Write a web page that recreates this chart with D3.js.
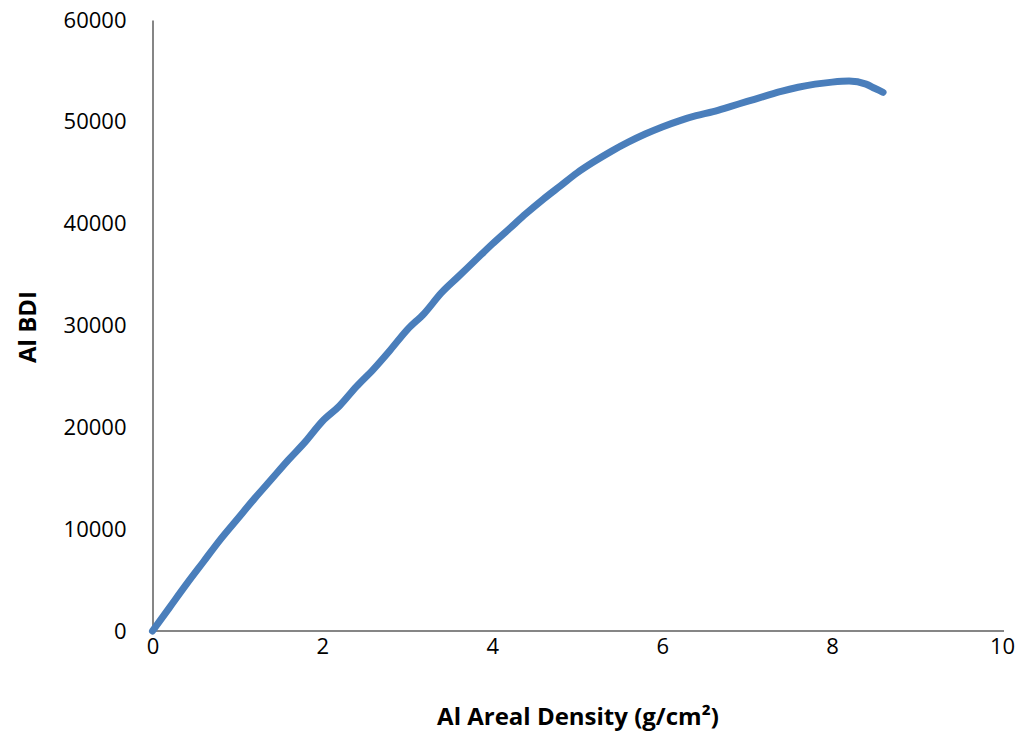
<!DOCTYPE html>
<html><head><meta charset="utf-8">
<script src="https://cdn.jsdelivr.net/npm/d3@7"></script>
<style>body{margin:0;background:#fff}svg text{font-family:"Open Sans",Lato,sans-serif;fill:#000}</style>
</head><body>
<svg id="c" width="1025" height="736"></svg>
<script>
const density = [0,0.2,0.4,0.6,0.8,1.0,1.2,1.4,1.6,1.8,2.0,2.2,2.4,2.6,2.8,3.0,3.2,3.4,3.6,3.8,4.0,4.2,4.4,4.6,4.8,5.0,5.2,5.4,5.6,5.8,6.0,6.2,6.4,6.6,6.8,7.0,7.2,7.4,7.6,7.8,8.0,8.2,8.4,8.5,8.6];
const bdi = [0,2300,4600,6800,9000,11000,13000,14900,16800,18600,20600,22100,24000,25700,27600,29600,31200,33200,34800,36400,38000,39500,41000,42400,43700,45000,46100,47100,48000,48800,49500,50100,50600,51000,51500,52000,52500,53000,53400,53700,53900,54000,53700,53300,52900];
const xTicks = [0,2,4,6,8,10];
const yTicks = [0,10000,20000,30000,40000,50000,60000];
const xTitle = "Al Areal Density (g/cm\u00B2)";
const yTitle = "Al BDI";

const svg = d3.select("#c");
const x = d3.scaleLinear().domain([0,10]).range([152.5,1002]);
const y = d3.scaleLinear().domain([0,60000]).range([631,20]);

const xAxis = svg.append("g").attr("transform","translate(0,631)")
  .call(d3.axisBottom(x).tickValues(xTicks).tickSize(0).tickPadding(7).tickFormat(d3.format("d")));
const yAxis = svg.append("g").attr("transform","translate(152.5,0)")
  .call(d3.axisLeft(y).tickValues(yTicks).tickSize(0).tickPadding(26).tickFormat(d3.format("d")));
[xAxis,yAxis].forEach(a=>{
  a.select(".domain").attr("stroke","#868686").attr("stroke-width",2);
  a.selectAll("text").attr("font-size",22).attr("font-family","'Open Sans',sans-serif");
});
xAxis.select(".domain").attr("d","M152.5,0H1004");

const pts = density.map((d,i)=>[d,bdi[i]]);
svg.append("path").datum(pts)
  .attr("fill","none").attr("stroke","#4A7EBB").attr("stroke-width",7)
  .attr("stroke-linejoin","round").attr("stroke-linecap","round")
  .attr("d", d3.line().x(d=>x(d[0])).y(d=>y(d[1])).curve(d3.curveMonotoneX));

svg.append("text").attr("x",578).attr("y",725).attr("text-anchor","middle")
  .attr("font-size",24).attr("font-weight","bold").text(xTitle);
svg.append("text").attr("transform","translate(36,327) rotate(-90)").attr("text-anchor","middle")
  .attr("font-size",24).attr("font-weight","bold").text(yTitle);
</script>
</body></html>
